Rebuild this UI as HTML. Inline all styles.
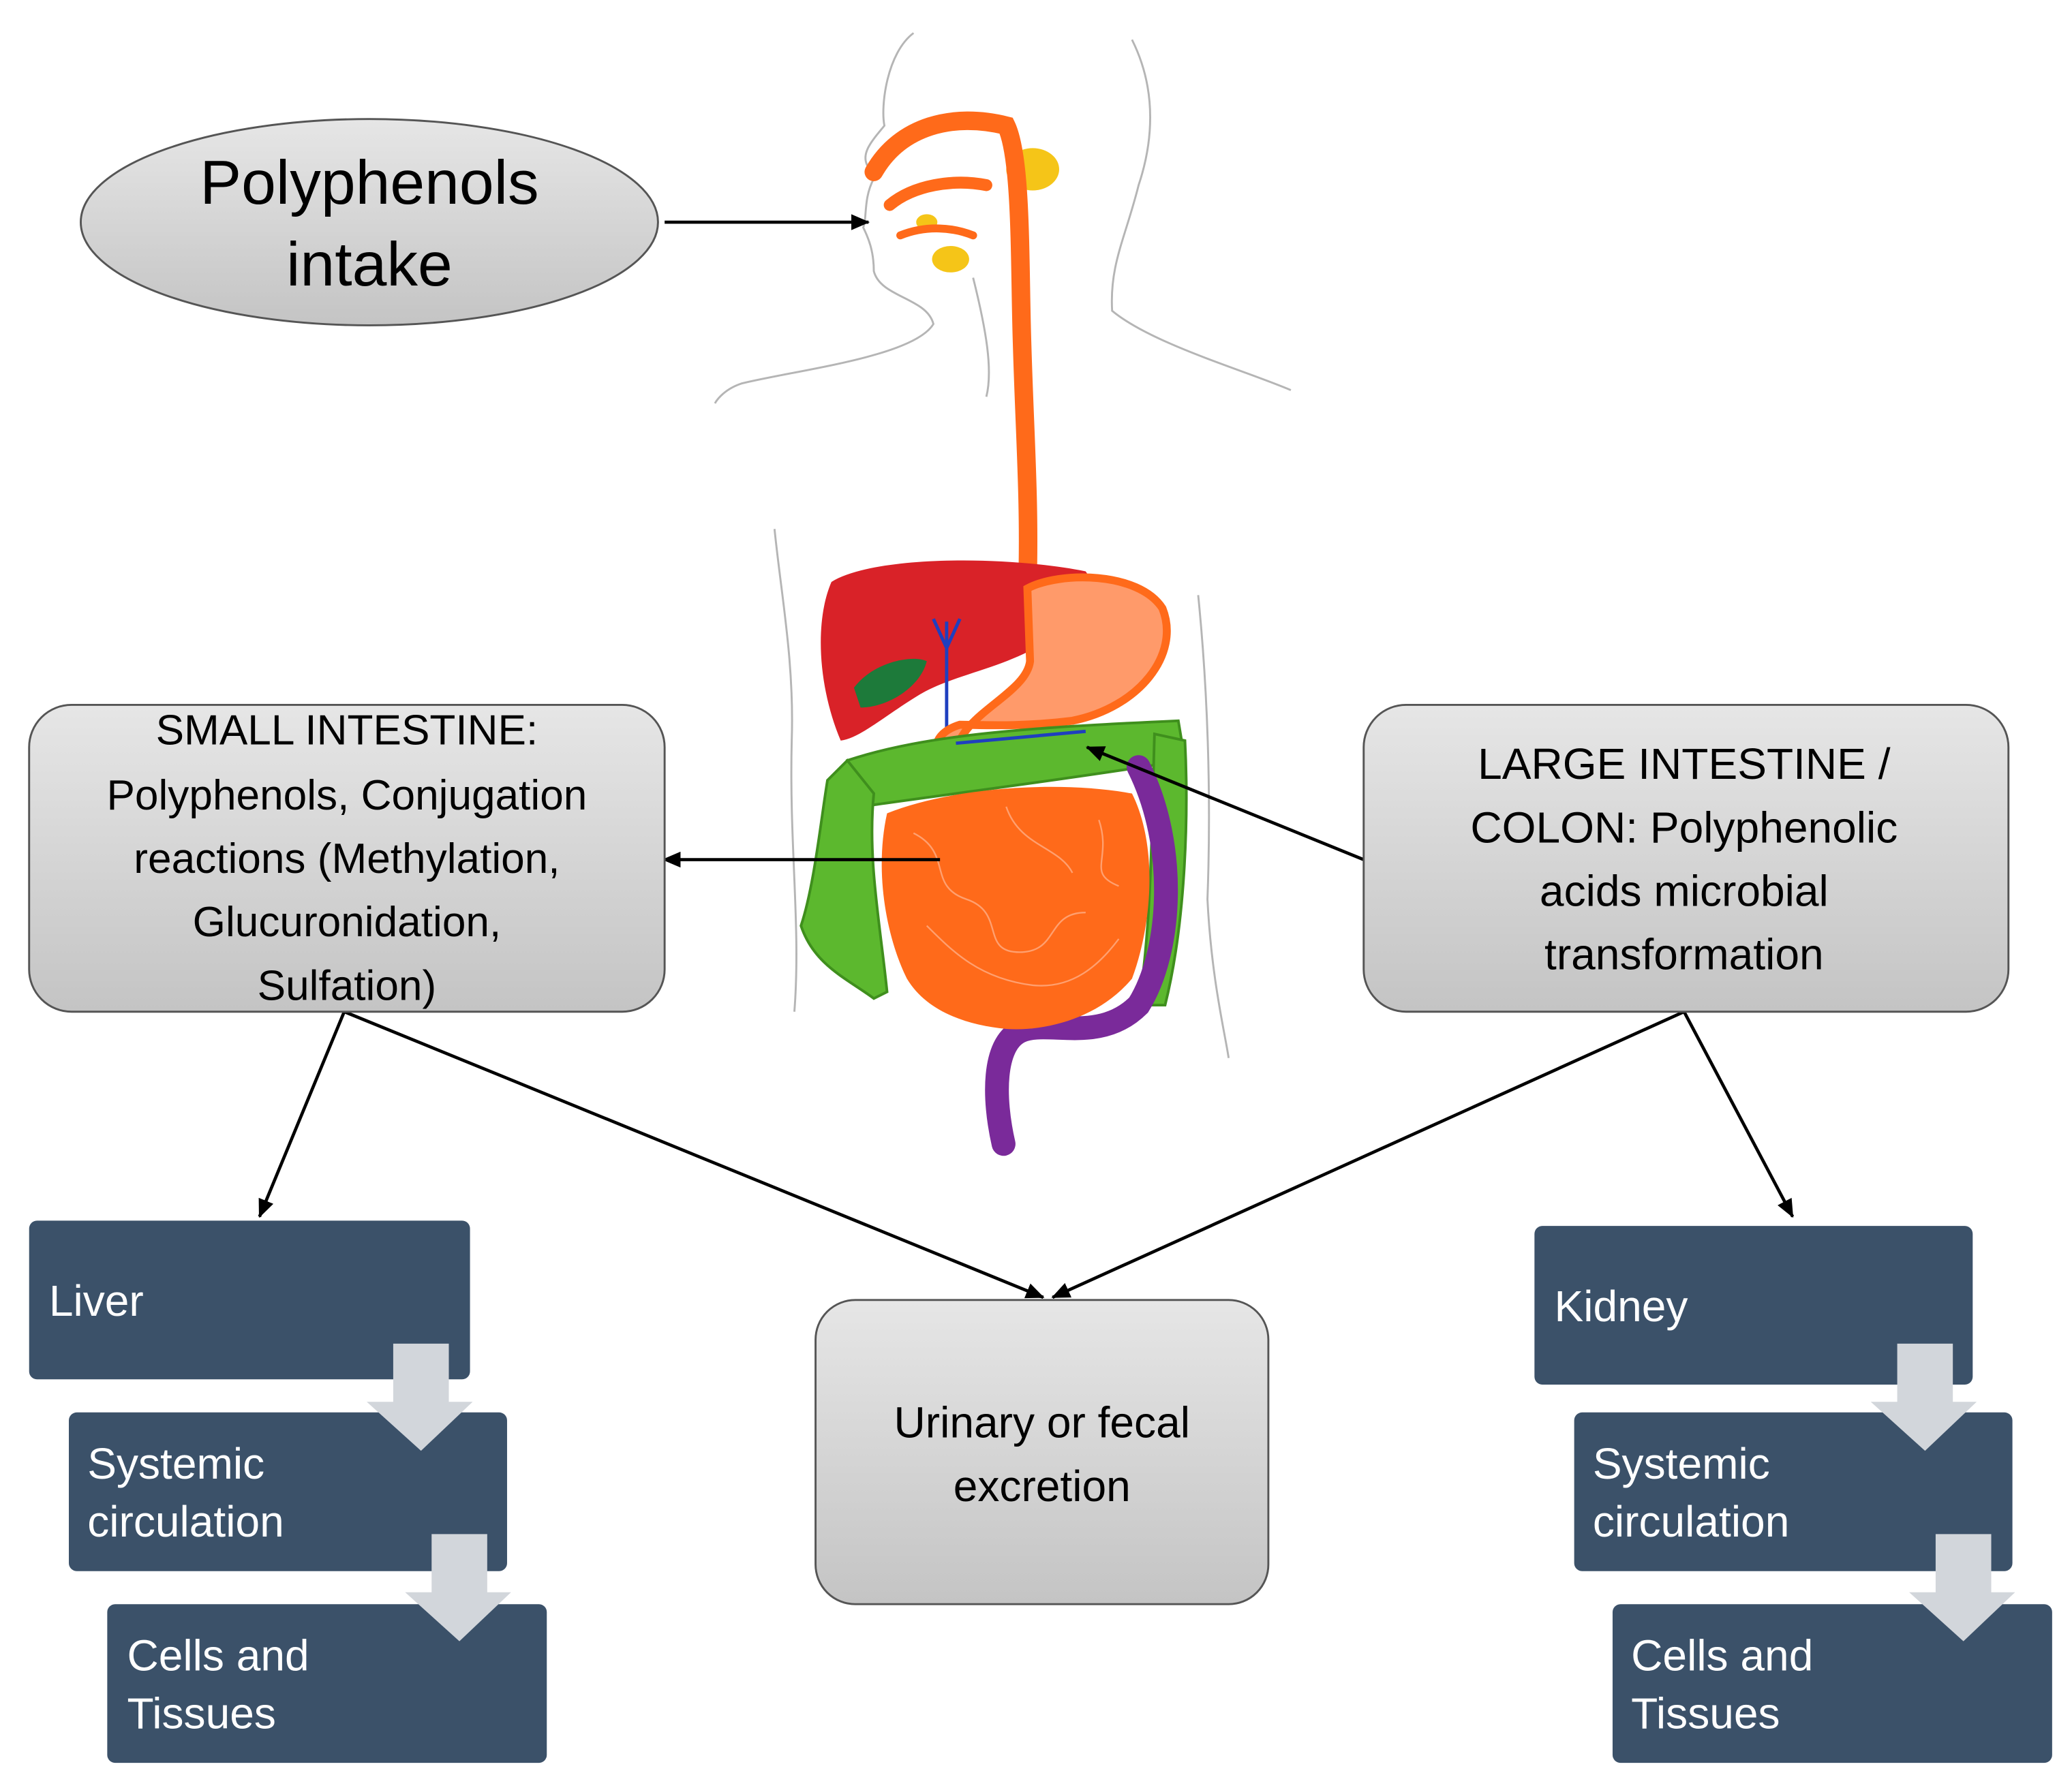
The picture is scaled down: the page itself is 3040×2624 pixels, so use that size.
<!DOCTYPE html>
<html><head><meta charset="utf-8"><style>
html,body{margin:0;padding:0;background:#fff}
svg{display:block}
text{font-family:"Liberation Sans","DejaVu Sans",sans-serif}
</style></head><body>
<svg width="3040" height="2624" viewBox="0 0 1565 1352" preserveAspectRatio="none" xmlns="http://www.w3.org/2000/svg">
<defs>
<linearGradient id="g1" x1="0" y1="0" x2="0" y2="1"><stop offset="0" stop-color="#e6e6e6"/><stop offset="1" stop-color="#c4c4c4"/></linearGradient>
<marker id="ah" markerWidth="14" markerHeight="14" refX="13" refY="7" orient="auto" markerUnits="userSpaceOnUse"><path d="M0,1 L14,7 L0,13 z" fill="#000"/></marker>
</defs>
<g fill="none" stroke="#b5b5b5" stroke-width="1.5">
<path d="M690,25 C670,40 665,80 668,95 C660,105 650,115 655,125 L660,135 C652,150 655,165 652,172 C656,180 660,190 660,205 C665,225 700,225 705,245 C690,270 600,280 560,290 C545,295 540,305 540,305"/>
<path d="M855,30 C875,70 870,110 860,140 C850,180 838,200 840,235 C870,260 940,280 975,295"/>
<path d="M585,400 C590,450 600,500 598,560 C596,640 605,700 600,765"/>
<path d="M905,450 C912,520 915,600 912,680 C915,740 925,780 928,800"/>
<path d="M735,210 C745,250 750,280 745,300"/>
</g>
<ellipse cx="780" cy="128" rx="20" ry="16" fill="#f5c518"/>
<ellipse cx="718" cy="196" rx="14" ry="10" fill="#f5c518"/>
<ellipse cx="700" cy="168" rx="8" ry="6" fill="#f5c518"/>
<g fill="none" stroke="#ff6a1a" stroke-linecap="round">
<path d="M660,130 C680,95 720,85 760,95 C772,120 770,200 772,260 C774,330 778,380 776,445" stroke-width="14"/>
<path d="M672,155 C690,140 720,135 745,140" stroke-width="9"/>
<path d="M680,178 C700,170 720,172 735,178" stroke-width="6"/>
</g>
<path d="M628,440 C660,420 760,420 820,432 C830,445 815,470 790,485 C760,505 720,510 695,525 C670,540 650,558 635,560 C618,520 615,470 628,440 z" fill="#d92228"/>
<path d="M645,520 C660,500 690,495 700,500 C695,520 670,535 650,535 z" fill="#1d7a3a"/>
<path d="M715,470 L715,560 M705,468 L715,490 L725,468" stroke="#1f3fbf" stroke-width="2.5" fill="none"/>
<path d="M776,445 C800,432 860,432 878,460 C892,495 860,535 810,545 C770,550 740,548 725,548 C712,552 705,560 708,570 L722,570 C725,540 775,525 778,500 z" fill="#ff9a6a" stroke="#ff6a1a" stroke-width="6"/>
<path d="M640,575 C700,555 780,550 890,545 L895,575 C800,590 720,600 650,610 z" fill="#5cb82e" stroke="#3f8f1d" stroke-width="2"/>
<path d="M722,562 L820,553" stroke="#1f3fbf" stroke-width="2.5"/>
<path d="M640,575 L660,600 C655,650 665,700 670,750 L660,755 C640,740 615,730 605,700 C615,670 620,620 625,590 z" fill="#5cb82e" stroke="#3f8f1d" stroke-width="2"/>
<path d="M872,555 L895,560 C898,620 895,700 880,760 L860,760 C870,700 870,620 872,555 z" fill="#5cb82e" stroke="#3f8f1d" stroke-width="2"/>
<path d="M860,580 C890,640 885,720 860,760 C830,790 790,770 770,780 C750,790 750,830 758,865" fill="none" stroke="#7a2a9a" stroke-width="18" stroke-linecap="round"/>
<path d="M670,615 C720,595 800,590 855,600 C875,640 870,700 855,740 C830,770 790,780 760,778 C730,775 700,765 685,740 C670,710 660,660 670,615 z" fill="#ff6a1a"/>
<g fill="none" stroke="#ffa070" stroke-width="1.2">
<path d="M690,630 C720,645 700,670 730,680 C760,690 740,720 770,720 C800,720 790,690 820,690"/>
<path d="M700,700 C720,720 740,740 780,745 C810,748 830,730 845,710"/>
<path d="M760,610 C770,640 800,640 810,660 M830,620 C840,650 820,660 845,670"/>
</g>
<g stroke="#000" stroke-width="2.4" fill="none" marker-end="url(#ah)">
<line x1="502" y1="168" x2="656" y2="168"/>
<line x1="710" y1="650" x2="501" y2="650"/>
<line x1="1030" y1="650" x2="821" y2="565"/>
<line x1="260" y1="765" x2="196" y2="920"/>
<line x1="260" y1="765" x2="788" y2="981"/>
<line x1="1272" y1="765" x2="795" y2="981"/>
<line x1="1272" y1="765" x2="1354" y2="920"/>
</g>
<ellipse cx="279" cy="168" rx="218" ry="78" fill="url(#g1)" stroke="#555" stroke-width="1.5"/>
<text x="279" y="154" font-size="47" text-anchor="middle" fill="#000">Polyphenols</text>
<text x="279" y="216" font-size="47" text-anchor="middle" fill="#000">intake</text>
<rect x="22" y="533" width="480" height="232" rx="32" fill="url(#g1)" stroke="#555" stroke-width="1.5"/>
<g font-size="32" text-anchor="middle" fill="#000">
<text x="262" y="563">SMALL INTESTINE:</text>
<text x="262" y="612">Polyphenols, Conjugation</text>
<text x="262" y="660">reactions (Methylation,</text>
<text x="262" y="708">Glucuronidation,</text>
<text x="262" y="756">Sulfation)</text>
</g>
<rect x="1030" y="533" width="487" height="232" rx="32" fill="url(#g1)" stroke="#555" stroke-width="1.5"/>
<g font-size="33" text-anchor="middle" fill="#000">
<text x="1272" y="589">LARGE INTESTINE /</text>
<text x="1272" y="637">COLON: Polyphenolic</text>
<text x="1272" y="685">acids microbial</text>
<text x="1272" y="733">transformation</text>
</g>
<rect x="616" y="983" width="342" height="230" rx="30" fill="url(#g1)" stroke="#555" stroke-width="1.5"/>
<g font-size="33" text-anchor="middle" fill="#000">
<text x="787" y="1087">Urinary or fecal</text>
<text x="787" y="1135">excretion</text>
</g>
<g fill="#3b5169">
<rect x="22" y="923" width="333" height="120" rx="6"/>
<rect x="52" y="1068" width="331" height="120" rx="6"/>
<rect x="81" y="1213" width="332" height="120" rx="6"/>
<rect x="1159" y="927" width="331" height="120" rx="6"/>
<rect x="1189" y="1068" width="331" height="120" rx="6"/>
<rect x="1218" y="1213" width="332" height="120" rx="6"/>
</g>
<g fill="#d2d6db">
<path d="M297,1016 H339 V1060 H357 L318,1097 L277,1060 H297 z"/>
<path d="M326,1160 H368 V1204 H386 L347,1241 L306,1204 H326 z"/>
<path d="M1433,1016 H1475 V1060 H1493 L1454,1097 L1413,1060 H1433 z"/>
<path d="M1462,1160 H1504 V1204 H1522 L1483,1241 L1442,1204 H1462 z"/>
</g>
<g font-size="33" fill="#fff">
<text x="37" y="995">Liver</text>
<text x="66" y="1118">Systemic</text>
<text x="66" y="1162">circulation</text>
<text x="96" y="1263">Cells and</text>
<text x="96" y="1307">Tissues</text>
<text x="1174" y="999">Kidney</text>
<text x="1203" y="1118">Systemic</text>
<text x="1203" y="1162">circulation</text>
<text x="1232" y="1263">Cells and</text>
<text x="1232" y="1307">Tissues</text>
</g>
</svg>
</body></html>
